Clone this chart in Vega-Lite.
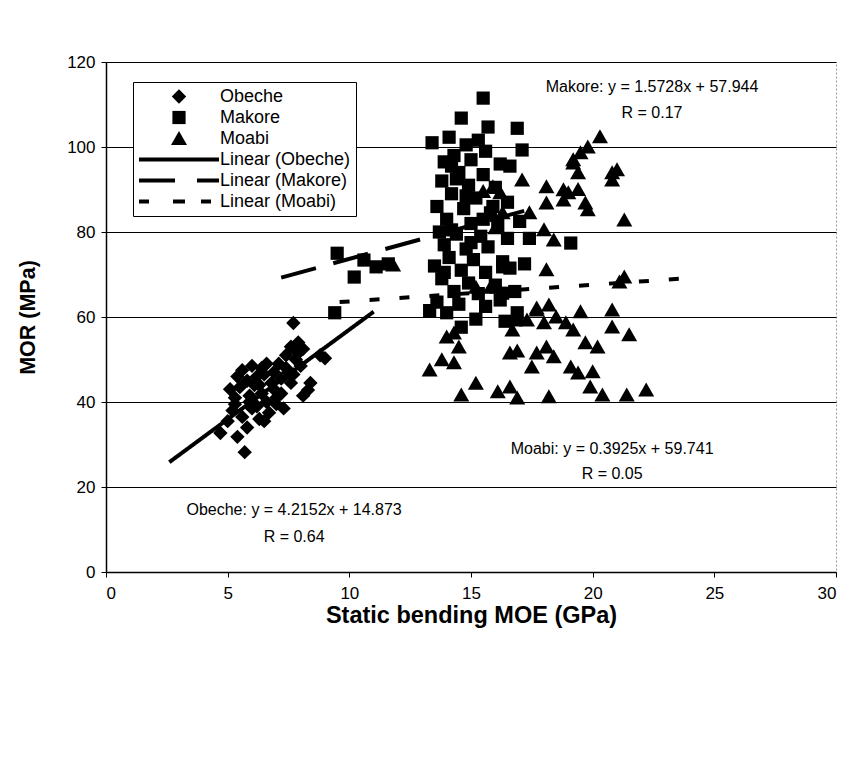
{
  "$schema": "https://vega.github.io/schema/vega-lite/v6.json",
  "autosize": "none",
  "width": 730,
  "height": 510,
  "padding": {"left": 106, "top": 62, "right": 13, "bottom": 190},
  "background": "white",
  "config": {
    "font": "Liberation Sans",
    "view": {"stroke": "#999", "strokeWidth": 1, "strokeDash": [2, 2]},
    "axis": {"labelFont": "Liberation Sans", "titleFont": "Liberation Sans", "labelColor": "black", "titleColor": "black", "domainColor": "black", "tickColor": "black"}
  },
  "layer": [
    {
      "data": {"values": [
        {"fit": "Obeche", "moe": 2.6, "mor": 25.83}, {"fit": "Obeche", "moe": 11.0, "mor": 61.24},
        {"fit": "Makore", "moe": 7.2, "mor": 69.27}, {"fit": "Makore", "moe": 17.5, "mor": 85.47},
        {"fit": "Moabi", "moe": 9.6, "mor": 63.51}, {"fit": "Moabi", "moe": 24.0, "mor": 69.16}
      ]},
      "mark": {"type": "line", "color": "black", "strokeWidth": 4, "strokeCap": "butt"},
      "encoding": {
        "x": {"field": "moe", "type": "quantitative"},
        "y": {"field": "mor", "type": "quantitative"},
        "detail": {"field": "fit"},
        "strokeDash": {"field": "fit", "type": "nominal", "scale": {"domain": ["Obeche", "Makore", "Moabi"], "range": [[1, 0], [36, 18], [10, 20]]}, "legend": null}
      }
    },
    {
      "data": {"values": [
        {"series": "Obeche", "moe": 4.7, "mor": 32.7}, {"series": "Obeche", "moe": 5.4, "mor": 31.8}, {"series": "Obeche", "moe": 5.7, "mor": 28.2}, {"series": "Obeche", "moe": 5.0, "mor": 35.5}, {"series": "Obeche", "moe": 5.2, "mor": 38.0}, {"series": "Obeche", "moe": 5.3, "mor": 41.0}, {"series": "Obeche", "moe": 5.1, "mor": 43.0}, {"series": "Obeche", "moe": 5.4, "mor": 46.0}, {"series": "Obeche", "moe": 5.6, "mor": 47.5}, {"series": "Obeche", "moe": 5.8, "mor": 45.0}, {"series": "Obeche", "moe": 5.9, "mor": 41.5}, {"series": "Obeche", "moe": 6.0, "mor": 48.5}, {"series": "Obeche", "moe": 6.1, "mor": 44.0}, {"series": "Obeche", "moe": 6.2, "mor": 39.0}, {"series": "Obeche", "moe": 6.3, "mor": 36.0}, {"series": "Obeche", "moe": 5.6, "mor": 36.5}, {"series": "Obeche", "moe": 5.8, "mor": 34.0}, {"series": "Obeche", "moe": 6.0, "mor": 38.5}, {"series": "Obeche", "moe": 6.4, "mor": 42.0}, {"series": "Obeche", "moe": 6.5, "mor": 46.5}, {"series": "Obeche", "moe": 6.6, "mor": 40.0}, {"series": "Obeche", "moe": 6.7, "mor": 37.5}, {"series": "Obeche", "moe": 6.8, "mor": 44.5}, {"series": "Obeche", "moe": 6.9, "mor": 47.0}, {"series": "Obeche", "moe": 7.0, "mor": 41.0}, {"series": "Obeche", "moe": 7.1, "mor": 49.0}, {"series": "Obeche", "moe": 7.2, "mor": 45.5}, {"series": "Obeche", "moe": 7.3, "mor": 38.5}, {"series": "Obeche", "moe": 7.4, "mor": 51.0}, {"series": "Obeche", "moe": 7.5, "mor": 47.0}, {"series": "Obeche", "moe": 7.6, "mor": 53.0}, {"series": "Obeche", "moe": 7.7, "mor": 58.6}, {"series": "Obeche", "moe": 7.8, "mor": 50.0}, {"series": "Obeche", "moe": 7.9, "mor": 54.0}, {"series": "Obeche", "moe": 8.0, "mor": 48.5}, {"series": "Obeche", "moe": 8.1, "mor": 52.5}, {"series": "Obeche", "moe": 8.3, "mor": 42.8}, {"series": "Obeche", "moe": 8.1, "mor": 41.5}, {"series": "Obeche", "moe": 8.8, "mor": 51.0}, {"series": "Obeche", "moe": 6.4, "mor": 48.0}, {"series": "Obeche", "moe": 6.2, "mor": 46.0}, {"series": "Obeche", "moe": 5.5, "mor": 43.5}, {"series": "Obeche", "moe": 6.9, "mor": 43.0}, {"series": "Obeche", "moe": 7.2, "mor": 42.0}, {"series": "Obeche", "moe": 7.6, "mor": 44.5}, {"series": "Obeche", "moe": 7.0, "mor": 39.5}, {"series": "Obeche", "moe": 6.5, "mor": 35.5}, {"series": "Obeche", "moe": 5.9, "mor": 40.0}, {"series": "Obeche", "moe": 6.3, "mor": 44.0}, {"series": "Obeche", "moe": 7.4, "mor": 48.0}, {"series": "Obeche", "moe": 7.7, "mor": 46.5}, {"series": "Obeche", "moe": 6.6, "mor": 49.0}, {"series": "Obeche", "moe": 5.3, "mor": 39.5}, {"series": "Obeche", "moe": 7.9, "mor": 51.5}, {"series": "Obeche", "moe": 8.4, "mor": 44.5}, {"series": "Obeche", "moe": 9.0, "mor": 50.3},
        {"series": "Makore", "moe": 9.5, "mor": 75.0}, {"series": "Makore", "moe": 10.2, "mor": 69.4}, {"series": "Makore", "moe": 10.6, "mor": 73.4}, {"series": "Makore", "moe": 11.1, "mor": 71.8}, {"series": "Makore", "moe": 11.6, "mor": 72.5}, {"series": "Makore", "moe": 9.4, "mor": 61.0},
        {"series": "Makore", "moe": 15.5, "mor": 111.5}, {"series": "Makore", "moe": 14.6, "mor": 106.8}, {"series": "Makore", "moe": 15.7, "mor": 104.7}, {"series": "Makore", "moe": 16.9, "mor": 104.4}, {"series": "Makore", "moe": 17.1, "mor": 99.3}, {"series": "Makore", "moe": 13.4, "mor": 101.0}, {"series": "Makore", "moe": 14.1, "mor": 102.3}, {"series": "Makore", "moe": 14.8, "mor": 100.5}, {"series": "Makore", "moe": 15.3, "mor": 101.6}, {"series": "Makore", "moe": 14.3, "mor": 98.0}, {"series": "Makore", "moe": 13.9, "mor": 96.5}, {"series": "Makore", "moe": 15.0, "mor": 97.0}, {"series": "Makore", "moe": 16.2, "mor": 96.0}, {"series": "Makore", "moe": 16.6, "mor": 95.5}, {"series": "Makore", "moe": 14.5, "mor": 94.0}, {"series": "Makore", "moe": 15.5, "mor": 93.5}, {"series": "Makore", "moe": 13.8, "mor": 92.0}, {"series": "Makore", "moe": 14.9, "mor": 91.0}, {"series": "Makore", "moe": 16.0, "mor": 90.5}, {"series": "Makore", "moe": 14.2, "mor": 89.0}, {"series": "Makore", "moe": 15.2, "mor": 88.0}, {"series": "Makore", "moe": 16.5, "mor": 87.0}, {"series": "Makore", "moe": 13.6, "mor": 86.0}, {"series": "Makore", "moe": 14.7, "mor": 85.5}, {"series": "Makore", "moe": 15.8, "mor": 84.5}, {"series": "Makore", "moe": 14.0, "mor": 83.0}, {"series": "Makore", "moe": 15.0, "mor": 82.0}, {"series": "Makore", "moe": 16.1, "mor": 81.5}, {"series": "Makore", "moe": 17.0, "mor": 82.5}, {"series": "Makore", "moe": 13.7, "mor": 80.0}, {"series": "Makore", "moe": 14.4, "mor": 79.5}, {"series": "Makore", "moe": 15.4, "mor": 79.0}, {"series": "Makore", "moe": 16.5, "mor": 78.5}, {"series": "Makore", "moe": 17.4, "mor": 78.5}, {"series": "Makore", "moe": 19.1, "mor": 77.4}, {"series": "Makore", "moe": 13.9, "mor": 77.0}, {"series": "Makore", "moe": 14.8, "mor": 76.0}, {"series": "Makore", "moe": 15.7, "mor": 76.5}, {"series": "Makore", "moe": 14.1, "mor": 74.0}, {"series": "Makore", "moe": 15.1, "mor": 73.5}, {"series": "Makore", "moe": 16.3, "mor": 73.0}, {"series": "Makore", "moe": 13.5, "mor": 72.0}, {"series": "Makore", "moe": 14.6, "mor": 71.0}, {"series": "Makore", "moe": 15.6, "mor": 70.5}, {"series": "Makore", "moe": 16.6, "mor": 71.5}, {"series": "Makore", "moe": 13.8, "mor": 69.0}, {"series": "Makore", "moe": 14.9, "mor": 68.0}, {"series": "Makore", "moe": 16.0, "mor": 67.5}, {"series": "Makore", "moe": 14.3, "mor": 66.0}, {"series": "Makore", "moe": 15.3, "mor": 65.5}, {"series": "Makore", "moe": 16.8, "mor": 66.0}, {"series": "Makore", "moe": 13.6, "mor": 63.5}, {"series": "Makore", "moe": 14.5, "mor": 63.0}, {"series": "Makore", "moe": 15.6, "mor": 62.5}, {"series": "Makore", "moe": 14.0, "mor": 61.0}, {"series": "Makore", "moe": 13.3, "mor": 61.5}, {"series": "Makore", "moe": 14.6, "mor": 57.6}, {"series": "Makore", "moe": 15.2, "mor": 59.5}, {"series": "Makore", "moe": 16.4, "mor": 59.0}, {"series": "Makore", "moe": 16.9, "mor": 61.0}, {"series": "Makore", "moe": 14.2, "mor": 80.5}, {"series": "Makore", "moe": 14.8, "mor": 88.5}, {"series": "Makore", "moe": 15.9, "mor": 86.0}, {"series": "Makore", "moe": 14.4, "mor": 92.5}, {"series": "Makore", "moe": 13.9, "mor": 70.5}, {"series": "Makore", "moe": 15.5, "mor": 83.0}, {"series": "Makore", "moe": 16.2, "mor": 64.0}, {"series": "Makore", "moe": 15.0, "mor": 77.5}, {"series": "Makore", "moe": 14.2, "mor": 95.5}, {"series": "Makore", "moe": 15.6, "mor": 99.0}, {"series": "Makore", "moe": 17.2, "mor": 72.5}, {"series": "Makore", "moe": 16.3, "mor": 71.8}, {"series": "Makore", "moe": 16.3, "mor": 65.6},
        {"series": "Moabi", "moe": 11.8, "mor": 72.2}, {"series": "Moabi", "moe": 13.3, "mor": 47.5}, {"series": "Moabi", "moe": 13.8, "mor": 49.9}, {"series": "Moabi", "moe": 14.3, "mor": 49.2}, {"series": "Moabi", "moe": 14.6, "mor": 41.6}, {"series": "Moabi", "moe": 15.2, "mor": 44.4}, {"series": "Moabi", "moe": 16.1, "mor": 42.4}, {"series": "Moabi", "moe": 16.6, "mor": 43.5}, {"series": "Moabi", "moe": 16.9, "mor": 40.9}, {"series": "Moabi", "moe": 18.2, "mor": 41.2}, {"series": "Moabi", "moe": 17.5, "mor": 48.2}, {"series": "Moabi", "moe": 16.8, "mor": 59.3}, {"series": "Moabi", "moe": 16.7, "mor": 56.9}, {"series": "Moabi", "moe": 17.7, "mor": 62.1}, {"series": "Moabi", "moe": 18.2, "mor": 62.8}, {"series": "Moabi", "moe": 18.5, "mor": 60.0}, {"series": "Moabi", "moe": 18.9, "mor": 58.6}, {"series": "Moabi", "moe": 19.5, "mor": 61.2}, {"series": "Moabi", "moe": 19.2, "mor": 56.9}, {"series": "Moabi", "moe": 19.7, "mor": 53.9}, {"series": "Moabi", "moe": 20.2, "mor": 52.9}, {"series": "Moabi", "moe": 18.4, "mor": 50.6}, {"series": "Moabi", "moe": 18.1, "mor": 52.9}, {"series": "Moabi", "moe": 19.1, "mor": 48.2}, {"series": "Moabi", "moe": 19.4, "mor": 46.8}, {"series": "Moabi", "moe": 20.0, "mor": 47.1}, {"series": "Moabi", "moe": 19.9, "mor": 43.5}, {"series": "Moabi", "moe": 20.4, "mor": 41.6}, {"series": "Moabi", "moe": 21.4, "mor": 41.6}, {"series": "Moabi", "moe": 22.2, "mor": 42.8}, {"series": "Moabi", "moe": 20.8, "mor": 61.6}, {"series": "Moabi", "moe": 20.8, "mor": 57.6}, {"series": "Moabi", "moe": 21.5, "mor": 55.8}, {"series": "Moabi", "moe": 21.1, "mor": 68.2}, {"series": "Moabi", "moe": 14.3, "mor": 56.2}, {"series": "Moabi", "moe": 14.5, "mor": 52.9}, {"series": "Moabi", "moe": 14.0, "mor": 55.3}, {"series": "Moabi", "moe": 16.6, "mor": 51.5}, {"series": "Moabi", "moe": 16.9, "mor": 52.0}, {"series": "Moabi", "moe": 17.7, "mor": 51.5}, {"series": "Moabi", "moe": 17.3, "mor": 59.3}, {"series": "Moabi", "moe": 18.0, "mor": 58.6}, {"series": "Moabi", "moe": 19.2, "mor": 97.0}, {"series": "Moabi", "moe": 17.1, "mor": 92.2}, {"series": "Moabi", "moe": 18.1, "mor": 90.6}, {"series": "Moabi", "moe": 18.8, "mor": 89.9}, {"series": "Moabi", "moe": 19.4, "mor": 90.0}, {"series": "Moabi", "moe": 16.2, "mor": 89.2}, {"series": "Moabi", "moe": 15.9, "mor": 90.6}, {"series": "Moabi", "moe": 18.1, "mor": 86.8}, {"series": "Moabi", "moe": 17.4, "mor": 84.5}, {"series": "Moabi", "moe": 16.3, "mor": 84.5}, {"series": "Moabi", "moe": 18.0, "mor": 80.5}, {"series": "Moabi", "moe": 18.4, "mor": 78.1}, {"series": "Moabi", "moe": 18.1, "mor": 71.1}, {"series": "Moabi", "moe": 17.7, "mor": 61.6}, {"series": "Moabi", "moe": 16.9, "mor": 60.0}, {"series": "Moabi", "moe": 15.2, "mor": 67.0}, {"series": "Moabi", "moe": 20.3, "mor": 102.4}, {"series": "Moabi", "moe": 19.8, "mor": 100.0}, {"series": "Moabi", "moe": 19.5, "mor": 98.6}, {"series": "Moabi", "moe": 19.2, "mor": 96.2}, {"series": "Moabi", "moe": 19.4, "mor": 93.9}, {"series": "Moabi", "moe": 20.8, "mor": 93.9}, {"series": "Moabi", "moe": 21.0, "mor": 94.6}, {"series": "Moabi", "moe": 20.8, "mor": 92.2}, {"series": "Moabi", "moe": 19.0, "mor": 89.2}, {"series": "Moabi", "moe": 18.8, "mor": 87.5}, {"series": "Moabi", "moe": 19.7, "mor": 86.8}, {"series": "Moabi", "moe": 19.8, "mor": 85.2}, {"series": "Moabi", "moe": 21.3, "mor": 82.8}, {"series": "Moabi", "moe": 21.3, "mor": 69.4}, {"series": "Moabi", "moe": 15.5, "mor": 89.5}, {"series": "Moabi", "moe": 15.8, "mor": 67.0}, {"series": "Moabi", "moe": 16.0, "mor": 81.0}
      ]},
      "mark": {"type": "point", "filled": true, "opacity": 1, "color": "black", "strokeWidth": 0, "size": 6400},
      "encoding": {
        "x": {"field": "moe", "type": "quantitative", "scale": {"domain": [0, 30], "nice": false},
          "axis": {"title": "Static bending MOE (GPa)", "values": [0, 5, 10, 15, 20, 25, 30], "grid": false, "labelFontSize": 17, "titleFontSize": 23.5, "titleFontWeight": "bold", "tickSize": 5, "labelPadding": 8, "titlePadding": 2, "domainWidth": 1.5}},
        "y": {"field": "mor", "type": "quantitative", "scale": {"domain": [0, 120], "nice": false},
          "axis": {"title": "MOR (MPa)", "values": [0, 20, 40, 60, 80, 100, 120], "grid": true, "gridColor": "black", "gridWidth": 1, "gridOpacity": 1, "labelFontSize": 17, "titleFontSize": 21.5, "titleFontWeight": "bold", "tickSize": 5, "labelPadding": 6, "titlePadding": 27, "domainWidth": 1.5}},
        "shape": {"field": "series", "type": "nominal",
          "scale": {"domain": ["Obeche", "Makore", "Moabi", "Linear (Obeche)", "Linear (Makore)", "Linear (Moabi)"],
            "range": ["M0,-0.18L0.18,0L0,0.18L-0.18,0Z", "M-0.165,-0.165H0.165V0.165H-0.165Z", "M0,-0.19L0.2,0.16H-0.2Z", "M-1,-0.05H1V0.05H-1Z", "M-1,-0.05H-0.1V0.05H-1ZM0.45,-0.05H1V0.05H0.45Z", "M-1,-0.05H-0.75V0.05H-1ZM-0.15,-0.05H0.15V0.05H-0.15ZM0.55,-0.05H0.8V0.05H0.55Z"]},
          "legend": {"title": null, "orient": "none", "legendX": 27, "legendY": 20, "padding": 5, "strokeColor": "black", "fillColor": "white",
            "labelFontSize": 18, "labelColor": "black", "labelFont": "Liberation Sans", "labelOffset": 0, "rowPadding": 2, "clipHeight": 19, "symbolSize": 6400, "symbolOpacity": 1}
        }
      }
    },
    {
      "data": {"values": [
        {"label": "Makore: y = 1.5728x + 57.944", "moe": 22.44, "mor": 114.1},
        {"label": "R = 0.17", "moe": 22.44, "mor": 108.0},
        {"label": "Moabi: y = 0.3925x + 59.741", "moe": 20.8, "mor": 28.9},
        {"label": "R = 0.05", "moe": 20.8, "mor": 23.1},
        {"label": "Obeche: y = 4.2152x + 14.873", "moe": 7.73, "mor": 14.6},
        {"label": "R = 0.64", "moe": 7.73, "mor": 8.2}
      ]},
      "mark": {"type": "text", "font": "Liberation Sans", "fontSize": 16, "color": "black", "align": "center", "baseline": "middle"},
      "encoding": {
        "x": {"field": "moe", "type": "quantitative"},
        "y": {"field": "mor", "type": "quantitative"},
        "text": {"field": "label"}
      }
    }
  ]
}
